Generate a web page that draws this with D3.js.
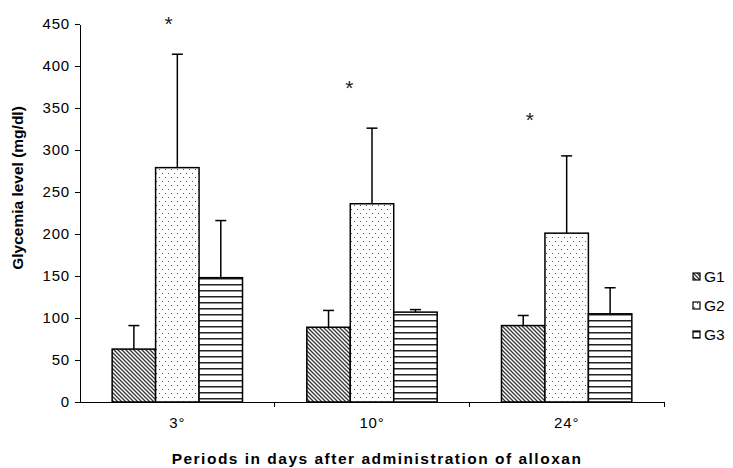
<!DOCTYPE html>
<html>
<head>
    <title>Glycemia level per period - D3.js</title>
    <script src="https://d3js.org/d3.v7.min.js"></script>
    <style>
        body { margin: 0; background: #fff; }
        .axis path, .axis line { fill: none; stroke: #000; stroke-width: 1; shape-rendering: crispEdges; }
        .axis text { font-family: "Liberation Sans", Arial, sans-serif; font-size: 15px; letter-spacing: 0.8px; fill: #000; }
        .axis-title { font-family: "Liberation Sans", Arial, sans-serif; font-size: 15.5px; font-weight: bold; text-anchor: middle; }
        .legend text { font-family: "Liberation Sans", Arial, sans-serif; font-size: 15.5px; }
        .star { font-family: "Liberation Sans", Arial, sans-serif; font-size: 21px; text-anchor: middle; fill: #222; }
    </style>
</head>
<body>
<div id="chart"></div>
<script>
    // periods (categories) and groups
    const periods = ["3°", "10°", "24°"];
    const groups = ["G1", "G2", "G3"];

    // mean glycemia (mg/dl) per group, one value per period
    const g1Mean = [63, 89, 91];
    const g2Mean = [279, 236, 201];
    const g3Mean = [148, 107, 105];

    // upper error (sd) per group
    const g1Err = [28, 20, 12];
    const g2Err = [135, 90, 92];
    const g3Err = [68, 3, 31];

    // asterisk height (in mg/dl) above each period
    const starValue = [456, 380, 342];

    const yTicks = [0, 50, 100, 150, 200, 250, 300, 350, 400, 450];

    const means = [g1Mean, g2Mean, g3Mean];
    const errs = [g1Err, g2Err, g3Err];

    const W = 733, H = 468;
    const margin = { top: 24, right: 69, bottom: 66, left: 80 };
    const width = W - margin.left - margin.right;
    const height = H - margin.top - margin.bottom;

    const svg = d3.select("#chart").append("svg")
        .attr("width", W).attr("height", H);

    // fill patterns
    const defs = svg.append("defs");
    const p1 = defs.append("pattern").attr("id", "pat-G1")
        .attr("patternUnits", "userSpaceOnUse").attr("width", 4).attr("height", 4);
    p1.append("rect").attr("width", 4).attr("height", 4).attr("fill", "#fff");
    p1.append("path").attr("d", "M-1,-1 L5,5 M-1,3 L1,5 M3,-1 L5,1")
        .attr("stroke", "#333").attr("stroke-width", 1.3);

    const p2 = defs.append("pattern").attr("id", "pat-G2")
        .attr("patternUnits", "userSpaceOnUse").attr("width", 6).attr("height", 8);
    p2.append("rect").attr("width", 6).attr("height", 8).attr("fill", "#fff");
    p2.append("rect").attr("x", 1).attr("y", 1).attr("width", 1).attr("height", 1).attr("fill", "#555");
    p2.append("rect").attr("x", 4).attr("y", 5).attr("width", 1).attr("height", 1).attr("fill", "#555");

    const p3 = defs.append("pattern").attr("id", "pat-G3")
        .attr("patternUnits", "userSpaceOnUse").attr("width", 6).attr("height", 6);
    p3.append("rect").attr("width", 6).attr("height", 6).attr("fill", "#fff");
    p3.append("rect").attr("x", 0).attr("y", 2).attr("width", 6).attr("height", 1.5).attr("fill", "#222");

    const g = svg.append("g").attr("transform", `translate(${margin.left},${margin.top})`);

    const x = d3.scaleBand().domain(periods).range([0, width]).paddingInner(0).paddingOuter(0);
    const xSub = d3.scaleBand().domain(groups).range([0, x.bandwidth()]).paddingInner(0).paddingOuter(0.74);
    const y = d3.scaleLinear().domain([0, 450]).range([height, 0]);

    // bars data
    const bars = [];
    periods.forEach((p, i) => {
        groups.forEach((gr, j) => {
            bars.push({ period: p, group: gr, mean: means[j][i], err: errs[j][i] });
        });
    });

    const cx = d => x(d.period) + xSub(d.group) + xSub.bandwidth() / 2;

    // error bars (upper only) drawn behind bars
    const eb = g.selectAll(".err").data(bars).enter().append("g").attr("class", "err");
    eb.append("line")
        .attr("x1", cx).attr("x2", cx)
        .attr("y1", d => y(d.mean))
        .attr("y2", d => y(d.mean + d.err))
        .attr("stroke", "#000").attr("stroke-width", 1.5);
    eb.append("line")
        .attr("x1", d => cx(d) - 5.5)
        .attr("x2", d => cx(d) + 5.5)
        .attr("y1", d => y(d.mean + d.err))
        .attr("y2", d => y(d.mean + d.err))
        .attr("stroke", "#000").attr("stroke-width", 1.5);

    g.selectAll(".bar").data(bars).enter().append("rect")
        .attr("class", "bar")
        .attr("x", d => x(d.period) + xSub(d.group))
        .attr("y", d => y(d.mean))
        .attr("width", xSub.bandwidth())
        .attr("height", d => height - y(d.mean))
        .attr("fill", d => `url(#pat-${d.group})`)
        .attr("stroke", "#000").attr("stroke-width", 1.5);

    // y axis
    g.append("g").attr("class", "axis")
        .call(d3.axisLeft(y).tickValues(yTicks).tickSize(5).tickPadding(5).tickSizeOuter(0));

    // x axis with ticks between categories
    const xa = g.append("g").attr("class", "axis").attr("transform", `translate(0,${height})`);
    xa.append("line").attr("x1", 0).attr("x2", width).attr("y1", 0).attr("y2", 0).attr("stroke", "#000");
    xa.selectAll(".xt").data(periods).enter().append("line")
        .attr("x1", d => x(d) + x.bandwidth()).attr("x2", d => x(d) + x.bandwidth())
        .attr("y1", 0).attr("y2", 5).attr("stroke", "#000");
    xa.selectAll(".xl").data(periods).enter().append("text")
        .attr("x", d => x(d) + x.bandwidth() / 2)
        .attr("y", 26)
        .attr("text-anchor", "middle")
        .text(d => d);

    // asterisks, near the left edge of the G2 bar
    const starShift = [13, -1, -15];
    g.selectAll(".star").data(periods).enter().append("text")
        .attr("class", "star")
        .attr("x", (d, i) => x(d) + xSub("G2") + starShift[i])
        .attr("y", (d, i) => y(starValue[i]) + 12)
        .text("*");

    // axis titles
    g.append("text").attr("class", "axis-title")
        .attr("x", width / 2 + 5).attr("y", height + 62)
        .style("letter-spacing", "1.5px")
        .text("Periods in days after administration of alloxan");
    g.append("text").attr("class", "axis-title")
        .attr("transform", `translate(${-57},${188 - margin.top}) rotate(-90)`)
        .text("Glycemia level (mg/dl)");

    // legend
    const legend = svg.append("g").attr("class", "legend")
        .attr("transform", `translate(${margin.left + width + 29},277)`);
    const li = legend.selectAll("g").data(groups).enter().append("g")
        .attr("transform", (d, i) => `translate(0,${i * 29})`);
    li.append("rect").attr("x", 0).attr("y", -4).attr("width", 7).attr("height", 7)
        .attr("fill", d => `url(#pat-${d})`).attr("stroke", "#000").attr("stroke-width", 1.2);
    li.append("text").attr("x", 11).attr("y", 0).attr("dy", "0.35em").text(d => d);
</script>
</body>
</html>
